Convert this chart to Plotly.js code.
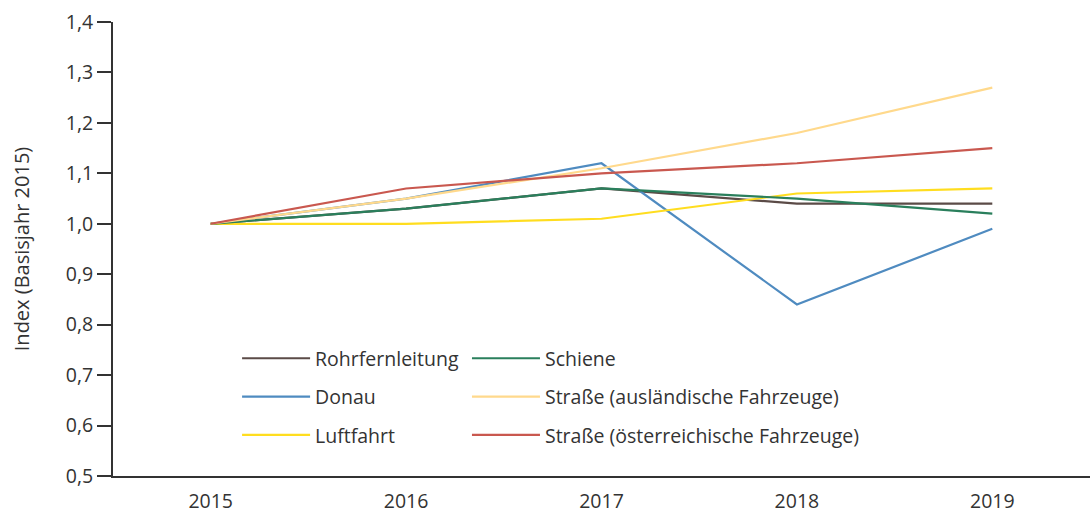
<!DOCTYPE html>
<html>
<head>
<meta charset="utf-8">
<script src="https://cdn.plot.ly/plotly-3.0.1.min.js"></script>
<style>
html,body{margin:0;padding:0;background:#fff;}
#chart{width:1090px;height:513px;}
</style>
</head>
<body>
<div id="chart"></div>
<script>
const years = ['2015', '2016', '2017', '2018', '2019'];
const rohrfernleitung = [1.00, 1.03, 1.07, 1.04, 1.04];
const schiene = [1.00, 1.03, 1.07, 1.05, 1.02];
const donau = [1.00, 1.05, 1.12, 0.84, 0.99];
const strasseAusl = [1.00, 1.05, 1.11, 1.18, 1.27];
const luftfahrt = [1.00, 1.00, 1.01, 1.06, 1.07];
const strasseOest = [1.00, 1.07, 1.10, 1.12, 1.15];
const yTicks = [0.5, 0.6, 0.7, 0.8, 0.9, 1.0, 1.1, 1.2, 1.3, 1.4];
const gridTicks = [0.6, 0.7, 0.8, 0.9, 1.0, 1.1, 1.2, 1.3];

const FONT = '"Open Sans", Lato, sans-serif';
const TXT = '#333333';

function tr(name, y, color, legend, grp) {
  return {
    type: 'scatter', mode: 'lines', x: years, y: y, name: name,
    line: {color: color, width: 2.2},
    legend: legend, legendgroup: grp, hoverinfo: 'skip'
  };
}

const data = [
  tr('Rohrfernleitung', rohrfernleitung, '#5b4b47', 'legend', 'g1'),
  tr('Donau', donau, '#4f8bc0', 'legend', 'g2'),
  tr('Luftfahrt', luftfahrt, '#ffdd1f', 'legend', 'g3'),
  tr('Schiene', schiene, '#2a7f5c', 'legend2', 'g4'),
  tr('Straße (ausländische Fahrzeuge)', strasseAusl, '#ffd98c', 'legend2', 'g5'),
  tr('Straße (österreichische Fahrzeuge)', strasseOest, '#c9584f', 'legend2', 'g6')
];

const legendCommon = {
  orientation: 'v', bgcolor: '#ffffff', borderwidth: 0,
  font: {family: FONT, size: 19.5, color: TXT},
  itemwidth: 68, tracegroupgap: 10, traceorder: 'grouped',
  yanchor: 'top', y: 0.3016, xanchor: 'left'
};

const layout = {
  width: 1090, height: 513,
  margin: {l: 113, r: 0, t: 22, b: 37},
  paper_bgcolor: '#ffffff', plot_bgcolor: '#ffffff',
  separators: ',.',
  font: {family: FONT, size: 19.5, color: TXT},
  showlegend: true,
  legend: Object.assign({}, legendCommon, {x: 0.127}),
  legend2: Object.assign({}, legendCommon, {x: 0.3623}),
  xaxis: {
    type: 'category', range: [-0.5, 4.5], fixedrange: true,
    showline: true, linecolor: '#333333', linewidth: 2,
    ticks: '', showgrid: false, zeroline: false, ticklabelstandoff: 7,
    tickfont: {family: FONT, size: 19.5, color: TXT}
  },
  yaxis: {
    range: [0.5, 1.4], tickvals: yTicks, tickformat: '.1f',
    showline: true, linecolor: '#333333', linewidth: 2,
    ticks: 'outside', ticklen: 14, tickwidth: 2, tickcolor: '#333333',
    showgrid: false, zeroline: false,
    tickfont: {family: FONT, size: 19.5, color: TXT},
    title: {text: 'Index (Basisjahr 2015)', font: {family: FONT, size: 20, color: TXT}, standoff: 31}
  },
  yaxis2: {
    overlaying: 'y', range: [0.5, 1.4], tickvals: gridTicks,
    showticklabels: false, ticks: '', showline: false, zeroline: false,
    showgrid: true, gridcolor: '#d9d9d9', gridwidth: 2
  }
};

Plotly.newPlot('chart', data, layout, {displayModeBar: false, staticPlot: true});
</script>
</body>
</html>
